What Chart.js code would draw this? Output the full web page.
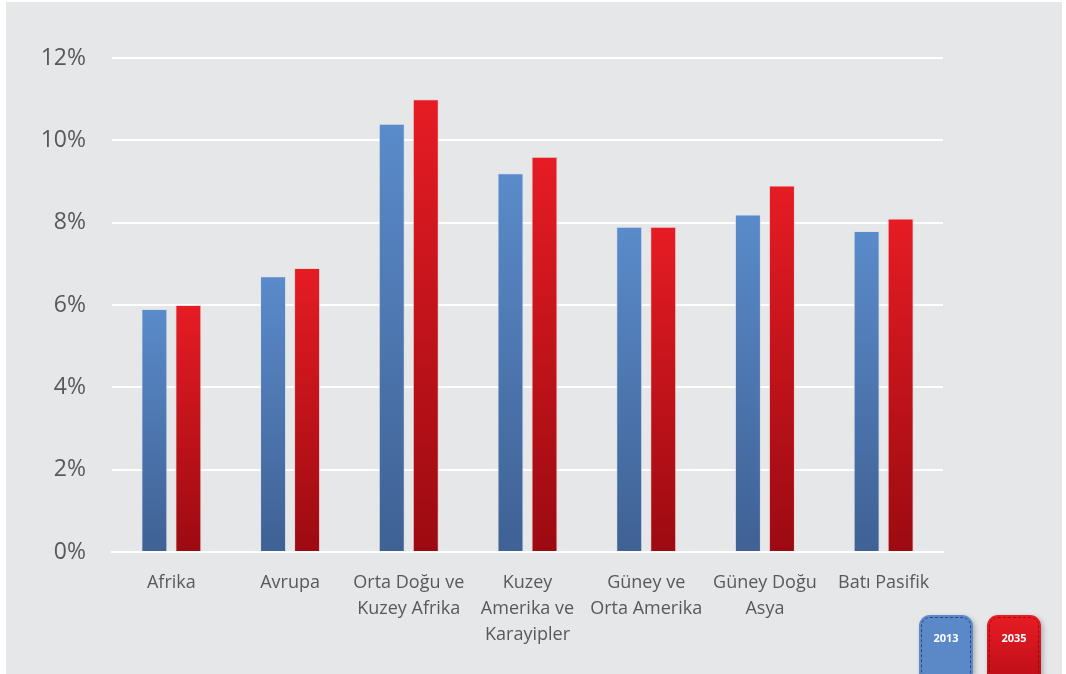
<!DOCTYPE html>
<html>
<head>
<meta charset="utf-8">
<script src="https://cdn.jsdelivr.net/npm/chart.js@4"></script>
<style>
  html, body { margin: 0; padding: 0; background: #ffffff; }
  #wrap { position: absolute; left: 0; top: 0; width: 1066px; height: 674px; overflow: hidden; }
  #bg { position: absolute; left: 6px; top: 2px; width: 1056px; height: 672px; background: #e6e7e9; }
  #chart { position: absolute; left: 0; top: 0; }
  .badge {
    position: absolute; top: 615px; width: 54px; height: 70px;
    border-radius: 11px; box-shadow: 2px 2px 5px rgba(0,0,0,0.25);
    font-family: "Open Sans", sans-serif; font-weight: 700; font-size: 11px;
    color: #ffffff; text-align: center; box-sizing: border-box; padding-top: 15px;
  }
  .badge::after {
    content: ""; position: absolute; left: 2px; top: 2px; right: 2px; bottom: 2px;
    border-radius: 9px; border: 1px dashed rgba(20,40,90,0.7);
  }
  .b13 { left: 919px; background: #5b89c8; }
  .b35 { left: 987px; background: linear-gradient(#e81c24, #b90d16); }
  .b35::after { border-color: rgba(120,0,0,0.6); }
</style>
</head>
<body>
<div id="wrap">
  <div id="bg"></div>
  <canvas id="chart" width="1066" height="674"></canvas>
  <div class="badge b13">2013</div>
  <div class="badge b35">2035</div>
</div>
<script>
// bölgeler ve oranlar (%)
const regions = [
  'Afrika',
  'Avrupa',
  ['Orta Doğu ve', 'Kuzey Afrika'],
  ['Kuzey', 'Amerika ve', 'Karayipler'],
  ['Güney ve', 'Orta Amerika'],
  ['Güney Doğu', 'Asya'],
  'Batı Pasifik'
];
const values2013 = [5.9, 6.7, 10.4, 9.2, 7.9, 8.2, 7.8];
const values2035 = [6.0, 6.9, 11.0, 9.6, 7.9, 8.9, 8.1];
const yTicks = [0, 2, 4, 6, 8, 10, 12];

// her çubuk için üstten alta degrade
function barGradient(top, bottom) {
  return (ctx) => {
    const chart = ctx.chart;
    const area = chart.chartArea;
    if (!area || ctx.type !== 'data') return top;
    const y0 = chart.scales.y.getPixelForValue(ctx.raw);
    const g = chart.ctx.createLinearGradient(0, y0, 0, area.bottom);
    g.addColorStop(0, top);
    g.addColorStop(1, bottom);
    return g;
  };
}

const textColor = '#595959';
const font = 'Open Sans';

new Chart(document.getElementById('chart'), {
  type: 'bar',
  data: {
    labels: regions,
    datasets: [
      {
        label: '2013',
        data: values2013,
        backgroundColor: barGradient('#5a8bca', '#3f6194'),
        borderColor: 'rgba(210,220,235,0.6)',
        borderWidth: 1,
        categoryPercentage: 0.573,
        barPercentage: 0.765
      },
      {
        label: '2035',
        data: values2035,
        backgroundColor: barGradient('#e61c24', '#9c0a11'),
        borderColor: 'rgba(240,200,200,0.6)',
        borderWidth: 1,
        categoryPercentage: 0.573,
        barPercentage: 0.765
      }
    ]
  },
  options: {
    responsive: false,
    animation: false,
    layout: { padding: { top: 58, right: 123, left: 0, bottom: 0 } },
    plugins: {
      legend: { display: false },
      tooltip: { enabled: false }
    },
    scales: {
      x: {
        grid: { display: false },
        border: { display: true, color: '#ffffff', width: 2 },
        ticks: {
          color: textColor,
          font: { family: font, size: 18, lineHeight: 1.45 },
          padding: 10,
          maxRotation: 0,
          autoSkip: false
        },
        afterFit: (s) => { s.height = 122; }
      },
      y: {
        min: 0,
        max: 12,
        afterBuildTicks: (s) => { s.ticks = yTicks.map(v => ({ value: v })); },
        grid: { color: '#ffffff', lineWidth: 2, drawTicks: false },
        border: { display: false },
        ticks: {
          color: textColor,
          font: { family: font, size: 23 },
          padding: 26,
          callback: (v) => v + '%'
        },
        afterFit: (s) => { s.width = 112; }
      }
    }
  }
});
</script>
</body>
</html>
